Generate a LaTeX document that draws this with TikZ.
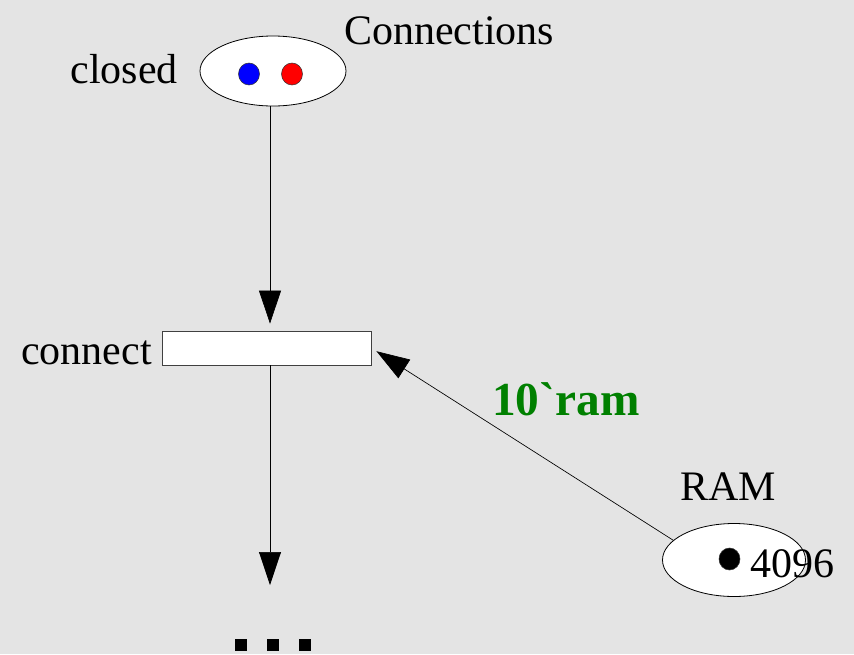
\documentclass[tikz,border=0pt]{standalone}
\usepackage{fontspec}
\setmainfont{Liberation Serif}
\newfontfamily\inscrfont{Liberation Serif}[Ligatures=TeXOff]
\usetikzlibrary{shapes.geometric,arrows.meta}
\definecolor{paper}{RGB}{228,228,228}
\definecolor{inscr}{RGB}{0,128,0}
\begin{document}
\begin{tikzpicture}[x=0.75pt,y=-0.75pt,
  place/.style={ellipse,draw=black,fill=white,line width=0.6pt,inner sep=0pt},
  token/.style={ellipse,draw=black!80,line width=0.4pt,inner sep=0pt,
    minimum width=21*0.75pt,minimum height=22*0.75pt},
  trans/.style={rectangle,draw=black!75,fill=white,line width=0.6pt,inner sep=0pt,
    minimum width=209*0.75pt,minimum height=34*0.75pt},
  lbl/.style={inner sep=0pt,font=\fontsize{31.5pt}{36pt}\selectfont},
  arc/.style={line width=0.5pt,-{Triangle[length=33*0.75pt,width=22*0.75pt]}},
  dotsq/.style={fill=black}]
  \useasboundingbox (0,0) rectangle (854,654);
  \fill[paper] (0,0) rectangle (854,654);

  % place "Connections" with two tokens
  \node[place,minimum width=146*0.75pt,minimum height=70*0.75pt] (conn) at (273,71) {};
  \node[token,fill=blue] (tokb) at (249,74) {};
  \node[token,fill=red] (tokr) at (292,74) {};
  \node[lbl,anchor=base east] (closed) at (178,83) {closed};
  \node[lbl,anchor=base west] (connname) at (344,44) {Connections};

  % transition "connect"
  \node[trans] (tr) at (266.5,348) {};
  \node[lbl,anchor=base east] (trname) at (152,364) {connect};

  % place "RAM"
  \node[place,minimum width=143*0.75pt,minimum height=73*0.75pt] (ram) at (734,560) {};
  \node[token,fill=black] (tokram) at (729.5,559) {};
  \node[lbl,anchor=base west] (count) at (750,577) {4096};
  \node[lbl,anchor=base west] (ramname) at (680,500) {RAM};

  % arcs
  \draw[arc,shorten >=7*0.75pt] ([xshift=-3*0.75pt]conn.south) -- ([xshift=3.5*0.75pt]tr.north);
  \coordinate (out) at (270,585);
  \draw[arc] ([xshift=3.5*0.75pt]tr.south) -- (out);
  \draw[arc,shorten >=6*0.75pt] (ram.162) -- (tr.east);
  \node[lbl,anchor=base west,text=inscr,font=\inscrfont\bfseries\fontsize{35.5pt}{40pt}\selectfont] (ins) at (492,415) {10`ram};

  % continuation marks
  \fill[dotsq] (235,639) rectangle (247,651);
  \fill[dotsq] (267,639) rectangle (279,651);
  \fill[dotsq] (299,639) rectangle (311,651);
\end{tikzpicture}
\end{document}
